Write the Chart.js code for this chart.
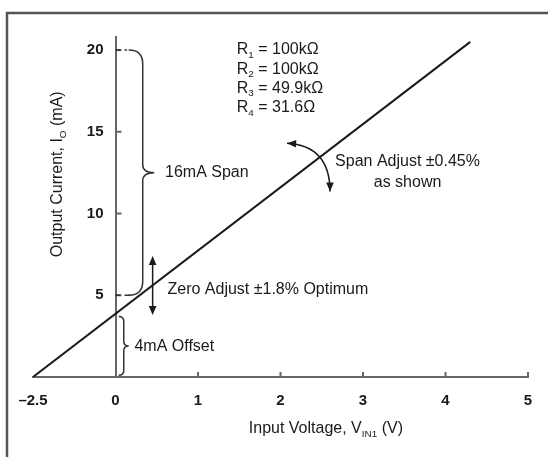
<!DOCTYPE html>
<html>
<head>
<meta charset="utf-8">
<script src="https://cdn.jsdelivr.net/npm/chart.js@4/dist/chart.umd.min.js"></script>
<style>
  html, body { margin: 0; padding: 0; background: #fff; }
</style>
</head>
<body>
<canvas id="myChart" width="548" height="457"></canvas>
<script>
// ---------------------------------------------- data
const xTicks = [-1, 0, 1, 2, 3, 4, 5];
const xTickLabels = ["\u20132.5", "0", "1", "2", "3", "4", "5"];
const yTicks = [5, 10, 15, 20];
const lineVolts = [-2.5, 4.3];
const lineCurrent = [0, 20.5];
const resistors = [["1", "100k\u03A9"], ["2", "100k\u03A9"], ["3", "49.9k\u03A9"], ["4", "31.6\u03A9"]];

// the axis is broken left of 0: -2.5..0 is squeezed into one division
function axisX(v) {
  return v < 0 ? v / 2.5 : v;
}

const FONT = "'Liberation Sans', Arial, sans-serif";
const INK = "#1a1a1a";
const TXT = 16;

// ---------------------------------------------- drawing helpers
function textRuns(ctx, parts, x, y, size, align) {
  // parts: [text, isSub]
  let w = 0;
  parts.forEach(([t, sub]) => {
    ctx.font = (sub ? size * 0.62 : size) + "px " + FONT;
    w += ctx.measureText(t).width;
  });
  let cx = align === "center" ? x - w / 2 : x;
  ctx.textAlign = "left";
  ctx.textBaseline = "middle";
  parts.forEach(([t, sub]) => {
    ctx.font = (sub ? size * 0.62 : size) + "px " + FONT;
    ctx.fillText(t, cx, sub ? y + size * 0.3 : y);
    cx += ctx.measureText(t).width;
  });
}

function arrowHead(ctx, x, y, ang) {
  const len = 9, half = 3.8;
  ctx.beginPath();
  ctx.moveTo(x, y);
  ctx.lineTo(x - len * Math.cos(ang) + half * Math.sin(ang), y - len * Math.sin(ang) - half * Math.cos(ang));
  ctx.lineTo(x - len * Math.cos(ang) - half * Math.sin(ang), y - len * Math.sin(ang) + half * Math.cos(ang));
  ctx.closePath();
  ctx.fill();
}

function brace(ctx, x, yTop, yBot, tipX, r, r2) {
  const ym = (yTop + yBot) / 2;
  ctx.beginPath();
  ctx.moveTo(x - r, yTop);
  ctx.quadraticCurveTo(x, yTop, x, yTop + r);
  ctx.lineTo(x, ym - r2);
  ctx.quadraticCurveTo(x, ym, tipX, ym);
  ctx.quadraticCurveTo(x, ym, x, ym + r2);
  ctx.lineTo(x, yBot - r);
  ctx.quadraticCurveTo(x, yBot, x - r, yBot);
  ctx.stroke();
}

// ---------------------------------------------- annotations
const notes = {
  id: "notes",
  afterDraw(chart) {
    const ctx = chart.ctx;
    const xs = chart.scales.x, ys = chart.scales.y;
    const X = (v) => xs.getPixelForValue(v);
    const Y = (v) => ys.getPixelForValue(v);
    const area = chart.chartArea;
    ctx.save();

    // frame around the figure
    ctx.strokeStyle = "#555";
    ctx.lineWidth = 2.5;
    ctx.beginPath();
    ctx.moveTo(7, 470);
    ctx.lineTo(7, 13);
    ctx.lineTo(560, 13);
    ctx.stroke();

    // inward tick marks
    ctx.strokeStyle = "#666";
    ctx.lineWidth = 2;
    ctx.beginPath();
    xTicks.filter((v) => v > 0).forEach((v) => {
      ctx.moveTo(X(v), area.bottom);
      ctx.lineTo(X(v), area.bottom - 5);
    });
    yTicks.forEach((v) => {
      ctx.moveTo(X(0), Y(v));
      ctx.lineTo(X(0) + 6, Y(v));
    });
    ctx.stroke();

    // y tick labels (axis sits at x = 0, so they are placed here)
    ctx.fillStyle = INK;
    ctx.font = "bold 15px " + FONT;
    ctx.textAlign = "right";
    ctx.textBaseline = "middle";
    ys.ticks.forEach((t) => ctx.fillText(String(t.value), X(0) - 12, Y(t.value)));

    // dashed leaders at 20 and 5
    ctx.strokeStyle = "#333";
    ctx.lineWidth = 1.5;
    ctx.setLineDash([5, 4]);
    ctx.beginPath();
    ctx.moveTo(X(0), Y(20));
    ctx.lineTo(X(0.14), Y(20));
    ctx.moveTo(X(0), Y(5));
    ctx.lineTo(X(0.22), Y(5));
    ctx.stroke();
    ctx.setLineDash([]);

    // 16mA span brace
    brace(ctx, X(0.33), Y(20), Y(5), X(0.47), 14, 8);
    // 4mA offset brace
    brace(ctx, X(0.1), Y(3.7), Y(0.1), X(0.16), 5, 5);

    // zero adjust double arrow
    ctx.fillStyle = INK;
    ctx.strokeStyle = INK;
    ctx.beginPath();
    ctx.moveTo(X(0.45), Y(7.2));
    ctx.lineTo(X(0.45), Y(4.0));
    ctx.stroke();
    arrowHead(ctx, X(0.45), Y(7.4), -Math.PI / 2);
    arrowHead(ctx, X(0.45), Y(3.8), Math.PI / 2);

    // span adjust curved arrow
    const p0 = [X(2.08), Y(14.3)], c = [X(2.6), Y(14.15)], p2 = [X(2.6), Y(11.35)];
    ctx.beginPath();
    ctx.moveTo(p0[0], p0[1]);
    ctx.quadraticCurveTo(c[0], c[1], p2[0], p2[1]);
    ctx.stroke();
    arrowHead(ctx, p0[0], p0[1], Math.atan2(p0[1] - c[1], p0[0] - c[0]));
    arrowHead(ctx, p2[0], p2[1], Math.atan2(p2[1] - c[1], p2[0] - c[0]));

    // texts
    ctx.fillStyle = INK;
    resistors.forEach(([n, val], i) => {
      textRuns(ctx, [["R", false], [n, true], [" = " + val, false]], X(1.47), Y(20) + i * 19.3, TXT);
    });
    textRuns(ctx, [["16mA Span", false]], X(0.6), Y(12.5), TXT);
    textRuns(ctx, [["Zero Adjust \u00B11.8% Optimum", false]], X(0.63), Y(5.35), TXT);
    textRuns(ctx, [["4mA Offset", false]], X(0.23), Y(1.85), TXT);
    textRuns(ctx, [["Span Adjust \u00B10.45%", false]], X(3.54), Y(13.2), TXT, "center");
    textRuns(ctx, [["as shown", false]], X(3.54), Y(11.9), TXT, "center");

    // axis titles
    textRuns(ctx, [["Input Voltage, V", false], ["IN1", true], [" (V)", false]], X(2.55), area.bottom + 52, TXT, "center");
    ctx.translate(58, Y(12.4));
    ctx.rotate(-Math.PI / 2);
    textRuns(ctx, [["Output Current, I", false], ["O", true], [" (mA)", false]], 0, 0, TXT, "center");

    ctx.restore();
  },
};

// ---------------------------------------------- chart
const ctx = document.getElementById("myChart").getContext("2d");
const myChart = new Chart(ctx, {
  type: "line",
  data: {
    datasets: [
      {
        data: lineVolts.map((v, i) => ({ x: axisX(v), y: lineCurrent[i] })),
        borderColor: INK,
        borderWidth: 2,
        pointRadius: 0,
        tension: 0,
      },
    ],
  },
  options: {
    responsive: false,
    animation: false,
    devicePixelRatio: 1,
    layout: { padding: { left: 33, right: 20, top: 37, bottom: 32 } },
    plugins: {
      legend: { display: false },
      tooltip: { enabled: false },
    },
    scales: {
      x: {
        type: "linear",
        min: -1,
        max: 5,
        afterBuildTicks: (s) => { s.ticks = xTicks.map((v) => ({ value: v })); },
        ticks: {
          autoSkip: false,
          maxRotation: 0,
          padding: 15,
          color: INK,
          font: { family: FONT, size: 15, weight: "bold" },
          callback: (v) => xTickLabels[xTicks.indexOf(v)],
        },
        grid: { drawOnChartArea: false, drawTicks: false },
        border: { color: "#666", width: 2 },
      },
      y: {
        type: "linear",
        position: { x: 0 },
        min: 0,
        max: 20.8,
        afterBuildTicks: (s) => { s.ticks = yTicks.map((v) => ({ value: v })); },
        ticks: { display: false },
        grid: { drawOnChartArea: false, drawTicks: false },
        border: { color: "#666", width: 2 },
      },
    },
  },
  plugins: [notes],
});
</script>
</body>
</html>
